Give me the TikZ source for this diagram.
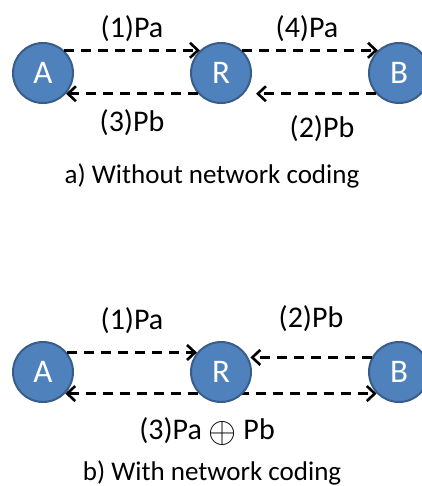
\documentclass[tikz,border=0pt]{standalone}
\usepackage{fontspec}
\setmainfont{Carlito}
\usepackage{tikz}
\usetikzlibrary{arrows.meta, positioning, backgrounds}
\definecolor{colorNode}{RGB}{79,129,189}
\definecolor{colorNodeLine}{RGB}{56,93,138}
\tikzset{
  station/.style={circle, minimum size=60pt, inner sep=0pt, fill=colorNode, draw=colorNodeLine, line width=2pt, text=white, font=\fontsize{33}{35}\selectfont},
  pkt/.style={dash pattern=on 10pt off 7pt, line width=2.6pt},
  lbl/.style={font=\fontsize{30}{32}\selectfont, inner sep=0pt},
  caption/.style={font=\fontsize{27}{29}\selectfont, inner sep=0pt}
}
\newcommand{\xorsym}{\raisebox{-0.08em}{\scalebox{1.45}{$\oplus$}}}

\begin{document}
\begin{tikzpicture}[x=1pt, y=-1pt, >={Straight Barb[length=8pt, width=15pt]}, node distance=178pt]
\useasboundingbox (0,0) rectangle (421,486);
% a) without network coding
\node[station] (A1) at (43,73) {A};
\node[station, right of=A1] (R1) {R};
\node[station, right of=R1] (B1) {B};
\draw [->, pkt] (A1.47) -- node [lbl, above=7pt] (l1) {(1)Pa} (R1.133);
\draw [->, pkt] (R1.47) -- node [lbl, above=7pt, xshift=-3pt] (l4) {(4)Pa} (B1.133);
\draw [->, pkt] (B1.222) -- node [lbl, below=21pt, xshift=6pt] (l2) {(2)Pb} ([xshift=12pt]R1.318);
\draw [->, pkt] (R1.222) -- node [lbl, below=15pt] (l3) {(3)Pb} (A1.318);
\node[caption] (capA) at (212,176) {a) Without network coding};
% b) with network coding
\node[station] (A2) at (43,372) {A};
\node[station, right of=A2] (R2) {R};
\node[station, right of=R2] (B2) {B};
\draw [->, pkt] (A2.39) -- node [lbl, above=18pt] (m1) {(1)Pa} (R2.141);
\draw [->, pkt] (B2.152) -- node [lbl, above=24pt] (m2) {(2)Pb} ([xshift=2pt]R2.28);
\begin{pgfonlayer}{background}
\draw [<->, pkt] (A2.-44) -- node [lbl, below=23pt, xshift=-14pt] (m3) {(3)Pa \xorsym{} Pb} (B2.224);
\end{pgfonlayer}
\node[caption] (capB) at (212,473) {b) With network coding};
\end{tikzpicture}
\end{document}
